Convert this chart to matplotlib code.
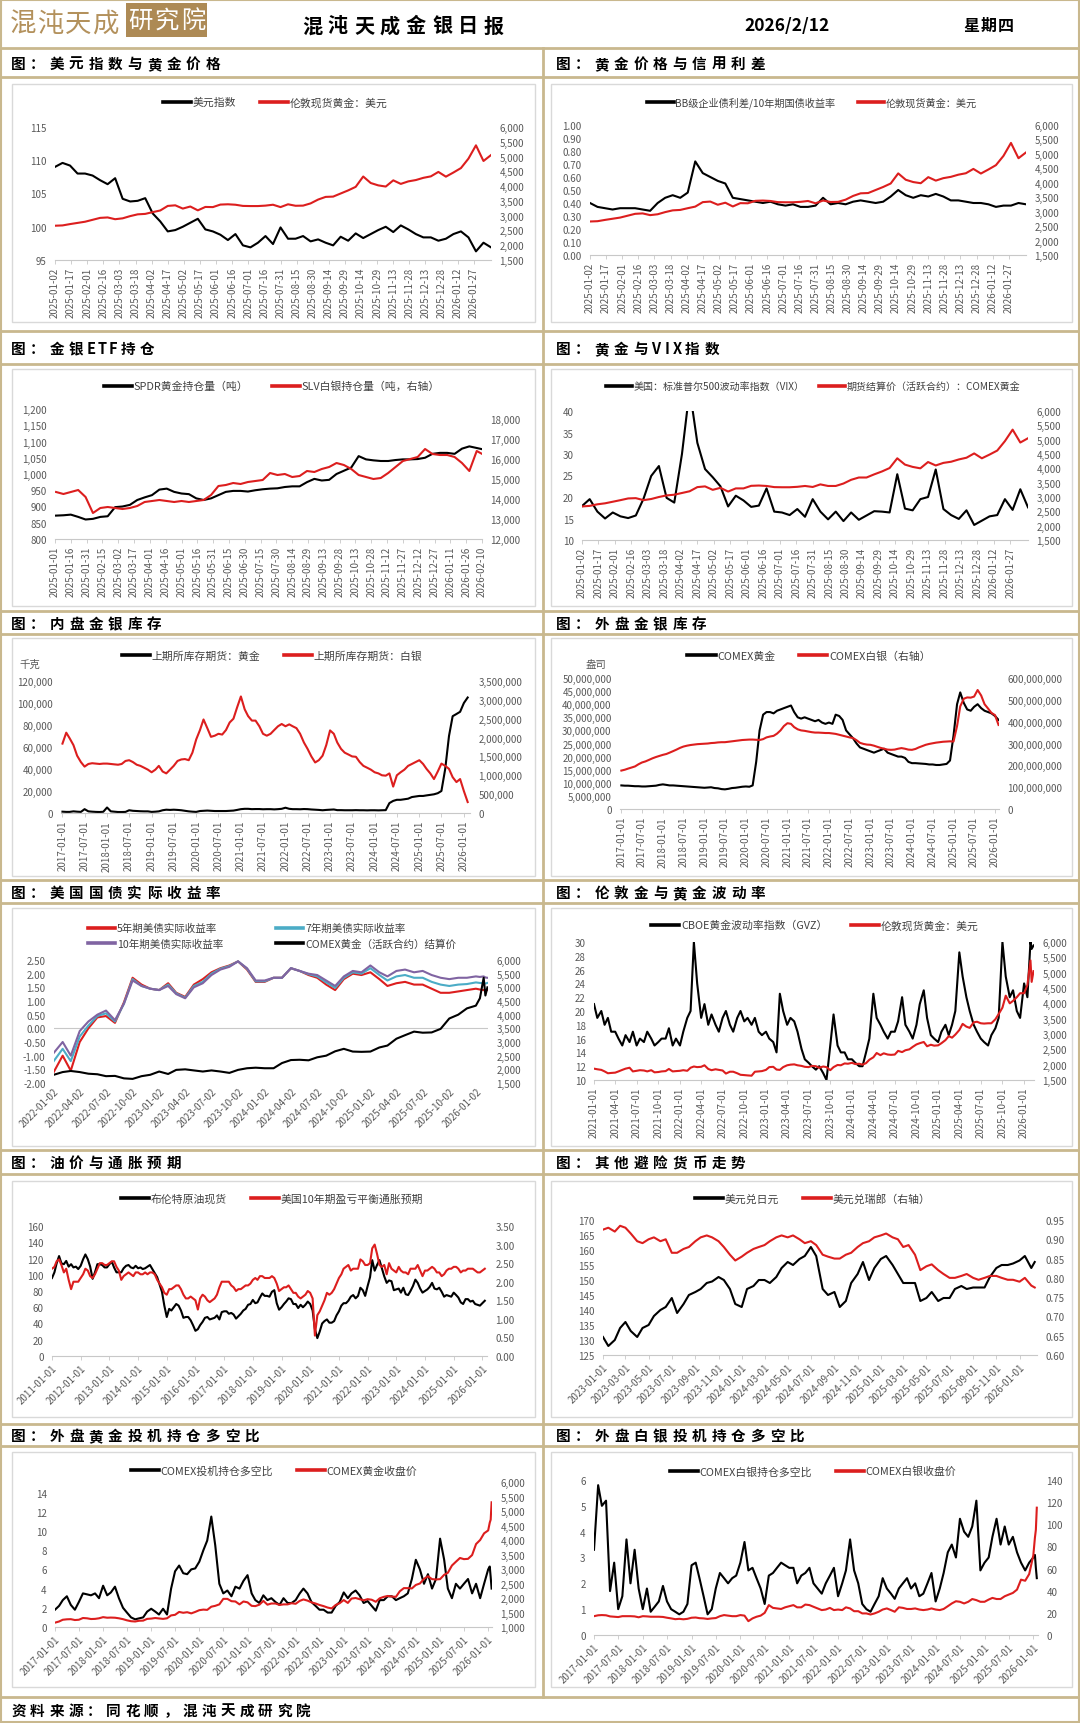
import matplotlib
matplotlib.use('Agg')
import matplotlib.pyplot as plt
from matplotlib.ticker import FuncFormatter
from matplotlib.lines import Line2D
from matplotlib.patches import Rectangle
import pandas as pd

plt.rcParams['font.family'] = ['Noto Sans CJK SC', 'DejaVu Sans']
plt.rcParams['axes.unicode_minus'] = False

W, H = 1080, 1724
TAN = '#C9B88E'
RED = '#DC1E1E'
BLK = '#000000'
TEAL = '#4BACC6'
PURP = '#8064A2'
TC = '#595959'
LW = 1.5

# ---------------- DATA ----------------
# weekly grid 2025-01-02 .. 2026-02-12 (59 points)
wk = pd.date_range('2025-01-02', periods=59, freq='7D')

dxy = [109.0,109.6,109.2,108.0,108.0,107.7,107.0,106.4,107.3,104.2,
       103.8,103.9,104.3,102.0,100.8,99.3,99.5,100.0,100.6,101.2,
       99.6,99.3,98.8,98.0,98.9,97.2,96.9,97.6,98.6,97.4,
       99.9,98.2,98.2,98.6,97.8,98.1,97.6,97.2,98.5,97.9,
       99.0,98.3,98.9,99.5,100.0,99.2,100.2,99.6,98.9,98.4,
       98.4,97.9,98.2,98.9,99.3,98.4,96.3,97.6,96.9]
gold_spot = [2660,2670,2715,2755,2795,2860,2925,2940,2880,2910,
             2985,3045,3060,3120,3175,3330,3350,3240,3310,3180,
             3295,3290,3375,3385,3370,3330,3325,3325,3340,3370,
             3290,3385,3335,3340,3415,3545,3635,3645,3750,3855,
             3975,4325,4105,4025,3985,4195,4075,4160,4205,4280,
             4330,4480,4320,4460,4610,4930,5380,4850,5050]
bb_spread = [0.40,0.37,0.36,0.35,0.36,0.36,0.36,0.35,0.34,0.40,
             0.44,0.46,0.44,0.48,0.72,0.63,0.60,0.57,0.55,0.44,
             0.43,0.42,0.41,0.40,0.41,0.39,0.38,0.39,0.37,0.37,
             0.38,0.44,0.39,0.40,0.39,0.41,0.42,0.41,0.40,0.41,
             0.45,0.50,0.46,0.44,0.46,0.45,0.47,0.45,0.42,0.42,
             0.41,0.40,0.40,0.39,0.37,0.38,0.38,0.40,0.39]
spdr = [872,873,875,868,860,862,868,870,898,900,
        905,920,928,935,952,955,945,940,938,925,
        920,925,935,945,948,948,946,950,953,955,
        956,960,962,962,975,985,980,982,1000,1010,
        1020,1055,1045,1042,1040,1040,1043,1045,1045,1046,
        1050,1062,1065,1065,1062,1078,1085,1080,1075]
slv = [14350,14250,14350,14450,14100,13300,13550,13600,13550,13500,
       13550,13650,13850,13900,13950,13900,13850,13900,13850,13900,
       13950,14200,14650,14700,14800,14750,14850,14900,14950,15300,
       15200,15250,15100,15150,15400,15350,15500,15600,15800,15700,
       15500,15200,15100,15000,15050,15300,15600,15900,16000,16100,
       16500,16250,16200,16200,16100,15800,15400,16400,16200]
vix = [17.9,19.5,16.6,15.0,16.4,15.5,15.1,15.7,19.6,24.9,
       27.2,19.8,18.7,30.0,45.0,32.6,26.5,24.6,22.5,17.8,
       20.3,19.2,17.7,18.0,22.0,16.6,16.4,15.8,17.2,15.4,
       19.5,16.6,14.8,16.6,14.4,16.4,14.7,15.7,16.7,16.6,
       16.4,25.3,17.3,16.9,19.5,20.0,26.4,17.2,15.8,14.9,
       16.9,13.5,14.5,15.5,15.8,19.5,17.0,21.8,17.6]
comex_gold_wk = [2670,2690,2745,2780,2835,2890,2950,2960,2890,2930,
                 3000,3055,3080,3140,3200,3345,3370,3250,3320,3190,
                 3300,3300,3390,3400,3385,3345,3340,3340,3355,3385,
                 3350,3440,3385,3385,3470,3600,3680,3680,3790,3890,
                 4010,4350,4130,4050,4000,4220,4100,4190,4230,4310,
                 4370,4520,4350,4480,4620,4950,5350,4900,5050]

# monthly 2017-01 .. 2026-02 (110)
m17 = pd.date_range('2017-01-01', periods=110, freq='MS')
shfe_gold = [1200,1000,1000,1500,1200,1000,3500,1500,1200,1000,900,1100,
             5000,1500,1200,900,900,1000,2500,2000,1800,1600,1500,1500,
             1000,1200,1500,2500,3000,2800,3000,2800,2500,2000,1500,1200,
             1000,1800,2000,2200,2000,1800,1800,1800,1800,2000,2200,2800,
             3500,3800,3800,3500,3600,3600,3400,3500,3500,3300,3500,3800,
             4800,3800,3500,3500,3400,3600,3500,3200,3000,2800,2500,2800,
             3000,3200,2600,2600,2500,2500,2500,2600,2500,2500,2400,2500,
             2500,2400,2500,2600,9000,11000,12000,12000,12500,13000,14500,15000,
             15500,15500,16000,16500,17000,18000,20000,40000,70000,88000,90000,92000,
             100000,105000]
shfe_silver = [1840000,2130000,1980000,1800000,1520000,1350000,1230000,1300000,1320000,1310000,1300000,1310000,
               1310000,1300000,1290000,1280000,1300000,1380000,1400000,1350000,1280000,1250000,1200000,1150000,
               1080000,1150000,1250000,1100000,1050000,1150000,1250000,1380000,1420000,1430000,1400000,1600000,
               1950000,2200000,2480000,2250000,2020000,2050000,2100000,2080000,2200000,2400000,2500000,2800000,
               3090000,2750000,2570000,2450000,2450000,2300000,2100000,2050000,2100000,2200000,2300000,2360000,
               2300000,2350000,2300000,2250000,2100000,1870000,1700000,1500000,1340000,1400000,1520000,1800000,
               2190000,2100000,1870000,1700000,1600000,1550000,1500000,1490000,1350000,1250000,1200000,1150000,
               1080000,1050000,1000000,990000,1050000,700000,1000000,1080000,1150000,1250000,1300000,1350000,
               1400000,1300000,1170000,1050000,900000,1100000,1310000,1250000,1170000,950000,820000,900000,
               580000,290000]
comex_gold_inv = [9.0,8.9,8.9,8.8,8.7,8.7,8.6,8.6,8.7,8.8,8.9,9.2,
                  9.4,9.2,9.0,9.0,8.9,8.8,8.7,8.6,8.5,8.4,8.3,8.2,
                  8.1,8.2,8.3,8.0,7.9,7.6,7.5,7.7,8.0,8.1,8.3,8.5,
                  8.6,8.5,9.0,18.0,30.0,36.0,37.0,37.0,36.5,37.5,38.0,38.5,
                  39.0,39.5,37.0,35.0,34.5,35.0,34.5,34.0,33.5,34.0,33.0,32.5,
                  33.0,32.5,36.0,35.5,34.0,30.0,28.5,27.0,25.0,23.5,23.0,22.5,
                  22.0,21.5,22.0,22.5,23.0,21.5,21.0,20.5,20.0,20.0,19.5,18.0,
                  17.5,17.5,17.4,17.3,17.2,17.0,17.0,16.8,16.8,17.0,17.2,18.5,
                  28.0,40.0,44.5,40.5,38.0,37.5,39.0,40.0,38.5,37.5,37.0,36.5,
                  35.5,34.0]
comex_silver_inv = [176,180,185,190,195,205,213,218,225,232,238,243,
                    248,252,258,265,272,280,286,290,293,295,297,298,
                    299,300,302,303,305,306,306,308,310,312,314,316,
                    317,318,318,317,316,320,328,332,335,345,360,380,
                    393,390,375,365,360,358,355,352,350,350,349,348,
                    348,346,344,340,336,332,328,325,315,303,298,295,
                    294,290,285,280,276,272,271,272,276,279,276,272,
                    271,275,282,288,294,298,301,304,306,308,309,310,
                    309,380,470,505,511,510,515,545,520,480,460,440,
                    430,385]

# US real yields, monthly 2022-01 .. 2026-01 plus Jan/Feb 2026 tail (53)
d7 = pd.date_range('2022-01-01', '2026-01-01', freq='MS').append(
    pd.to_datetime(['2026-01-15', '2026-01-28', '2026-02-03', '2026-02-10']))
ry5 = [-1.60,-1.00,-1.55,-0.50,0.00,0.40,0.45,0.20,0.95,1.85,1.60,1.45,
       1.40,1.65,1.30,1.15,1.60,1.80,2.05,2.20,2.30,2.45,2.15,1.70,
       1.70,1.85,1.85,2.20,2.10,1.95,1.85,1.60,1.40,1.80,2.00,1.95,
       2.05,1.80,1.55,1.65,1.70,1.60,1.60,1.45,1.30,1.30,1.35,1.40,
       1.45,1.42,1.40,1.38,1.40]
ry7 = [-1.20,-0.75,-1.20,-0.30,0.10,0.45,0.55,0.25,0.90,1.80,1.55,1.45,
       1.40,1.60,1.28,1.12,1.55,1.70,2.00,2.18,2.28,2.45,2.18,1.72,
       1.72,1.85,1.85,2.20,2.10,1.98,1.90,1.68,1.48,1.85,2.05,2.00,
       2.20,1.95,1.75,1.90,1.95,1.85,1.85,1.70,1.60,1.55,1.60,1.62,
       1.68,1.66,1.65,1.64,1.66]
ry10 = [-0.90,-0.50,-1.00,-0.10,0.25,0.50,0.65,0.30,0.90,1.75,1.55,1.45,
        1.40,1.55,1.25,1.10,1.50,1.65,1.95,2.15,2.25,2.45,2.20,1.75,
        1.75,1.85,1.85,2.20,2.10,2.00,1.95,1.75,1.55,1.90,2.10,2.05,
        2.30,2.05,1.90,2.10,2.15,2.05,2.10,1.95,1.85,1.80,1.85,1.85,
        1.90,1.88,1.90,1.86,1.85]
gold7 = [1800,1900,1940,1900,1840,1820,1750,1760,1670,1650,1750,1800,
         1920,1830,1980,2000,1960,1920,1960,1920,1870,1980,2040,2060,
         2040,2040,2230,2340,2350,2330,2440,2500,2660,2750,2650,2640,
         2650,2800,2870,3120,3250,3380,3340,3350,3480,3860,4000,4230,
         4330,4600,5350,4700,5000]

# GVZ and gold, semi-monthly 2021-01 .. 2026-01 plus tail (125)
d8 = pd.date_range('2021-01-01', '2026-01-15', freq='SMS').append(
    pd.to_datetime(['2026-01-28', '2026-02-02', '2026-02-10']))
gvz = [21,19, 20,18, 19,17, 17,16, 15,16.5, 15.5,17, 15,16, 15.5,17, 16,15, 15.5,16, 16,17.5, 15,16,
       15,17, 19,20, 30,24, 19,21, 18,19.5, 18,17, 19,20, 18,17, 19,20, 18.5,19, 18,19, 17,16.5,
       17,16, 15.5,14, 22.5,20, 18,19, 18.5,17, 14.5,13, 12.5,12, 11.5,12, 11,10, 15,19.5, 15,14, 14,13,
       13,12.5, 12,12, 14,16, 22.5,19, 18,17, 16,17, 17,18.5, 22,18, 17,16, 18,21, 23,19, 16.5,16,
       15.5,17, 18,16.5, 18,20, 28.5,25, 22,20, 18,17, 16,15.5, 15,16.5, 17.5,19, 30,25, 22,23, 20,19,
       24,22, 30,29,29.5]
gold8 = [1870,1850, 1830,1780, 1720,1730, 1740,1780, 1830,1870, 1900,1780, 1800,1820, 1810,1780, 1820,1750, 1760,1780, 1790,1860, 1780,1790,
         1800,1820, 1800,1900, 1940,1920, 1930,1980, 1860,1820, 1850,1830, 1810,1710, 1770,1770, 1720,1670, 1660,1650, 1640,1770, 1780,1790,
         1830,1920, 1930,1840, 1830,1920, 1980,2000, 2010,1980, 1960,1930, 1920,1960, 1950,1900, 1940,1920, 1820,1920, 1990,1980, 2040,2030,
         2060,2020, 2030,2000, 2050,2160, 2240,2380, 2310,2370, 2330,2320, 2330,2450, 2410,2470, 2500,2580, 2660,2700, 2740,2600, 2650,2620,
         2630,2700, 2800,2930, 2880,2980, 3130,3330, 3240,3200, 3380,3400, 3350,3340, 3350,3350, 3480,3650, 3860,4250, 4000,4080, 4200,4330,
         4330,4600, 5400,4700,5050]

# Brent and 10y breakeven, monthly 2011-01 .. 2026-02 (182)
m11 = pd.date_range('2011-01-01', periods=182, freq='MS')
brent = [96,103,114,123,114,113,117,110,113,109,110,107,
         111,119,125,119,110,95,103,113,113,112,109,109,
         113,116,109,103,103,103,108,111,112,109,108,111,
         108,109,107,108,110,112,107,102,97,88,79,62,
         48,58,56,60,64,62,56,47,48,48,44,38,
         31,33,38,42,47,48,45,46,47,50,45,54,
         55,55,52,53,51,46,49,52,56,58,63,64,
         69,65,66,72,77,74,74,73,79,81,65,57,
         60,64,67,71,70,64,64,59,63,60,63,67,
         64,56,33,22,30,40,43,45,41,41,43,50,
         55,62,65,65,68,73,75,71,74,84,81,74,
         86,97,118,105,112,118,108,98,90,93,92,81,
         82,83,78,84,76,75,80,86,94,90,83,78,
         80,82,85,90,83,82,84,79,73,75,74,73,
         78,75,72,66,64,70,70,67,68,64,63,62,
         65,68]
breakeven = [2.35,2.40,2.55,2.60,2.45,2.25,2.35,2.05,1.80,2.00,2.00,2.00,
             2.10,2.20,2.35,2.30,2.15,2.10,2.20,2.35,2.50,2.50,2.45,2.45,
             2.50,2.55,2.55,2.40,2.30,2.05,2.15,2.20,2.25,2.20,2.15,2.25,
             2.25,2.20,2.20,2.25,2.20,2.25,2.25,2.20,2.05,1.95,1.85,1.70,
             1.65,1.80,1.80,1.85,1.90,1.90,1.80,1.65,1.55,1.55,1.60,1.55,
             1.50,1.25,1.55,1.65,1.60,1.50,1.45,1.50,1.55,1.65,1.85,2.00,
             2.00,2.00,2.00,1.90,1.85,1.75,1.80,1.80,1.85,1.90,1.90,1.95,
             2.05,2.10,2.05,2.15,2.15,2.10,2.10,2.10,2.15,2.10,1.95,1.75,
             1.80,1.85,1.85,1.90,1.80,1.70,1.70,1.60,1.55,1.60,1.65,1.75,
             1.70,1.55,0.55,1.10,1.20,1.35,1.50,1.70,1.65,1.70,1.80,1.95,
             2.10,2.20,2.35,2.40,2.45,2.30,2.35,2.35,2.35,2.60,2.55,2.45,
             2.45,2.50,2.90,3.00,2.75,2.45,2.40,2.45,2.20,2.50,2.35,2.30,
             2.25,2.40,2.30,2.25,2.25,2.20,2.35,2.35,2.35,2.45,2.30,2.15,
             2.30,2.30,2.35,2.40,2.35,2.25,2.25,2.15,2.20,2.30,2.35,2.35,
             2.40,2.40,2.35,2.25,2.30,2.30,2.35,2.35,2.35,2.30,2.25,2.25,
             2.30,2.35]

# USDJPY / USDCHF semi-monthly 2023-01 .. 2026-02 (76)
d10 = pd.date_range('2023-01-01', '2026-02-01', freq='SMS').append(pd.to_datetime(['2026-02-10']))
usdjpy = [131,128, 130,134, 136,133, 131,134, 135,138, 140,141, 144,139, 142,145, 146,147, 149,149.5, 151,150, 147,142,
          141,147, 148,150, 150,149, 151,154, 156,155, 157,158, 161,158, 147,145, 146,141, 143,149, 152,156, 150,154,
          157,158, 155,152, 149,149, 149,143, 144,146, 143,144, 144,147, 148,147, 147.5,147.5, 147.5,151, 154,155, 155,155.5,
          156.5,158, 154, 156]
usdchf = [0.925,0.930, 0.920,0.935, 0.930,0.915, 0.895,0.890, 0.900,0.905, 0.895,0.900, 0.865,0.865, 0.875,0.880, 0.895,0.905, 0.910,0.905, 0.895,0.880, 0.860,0.845,
          0.855,0.865, 0.875,0.880, 0.885,0.895, 0.905,0.910, 0.905,0.910, 0.900,0.890, 0.895,0.885, 0.860,0.855, 0.850,0.850, 0.860,0.865, 0.880,0.890, 0.895,0.905,
          0.910,0.915, 0.905,0.900, 0.880,0.885, 0.860,0.820, 0.830,0.835, 0.820,0.810, 0.800,0.800, 0.805,0.810, 0.800,0.795, 0.800,0.805, 0.805,0.800, 0.795,0.795,
          0.790,0.800, 0.780, 0.775]

# CFTC positioning, monthly 2017-01 .. 2026-01 plus tail (112)
d11 = pd.date_range('2017-01-01', '2026-01-01', freq='MS').append(
    pd.to_datetime(['2026-01-13', '2026-01-20', '2026-01-27']))
gold_ls = [1.8,2.2,2.8,3.2,2.3,1.8,2.6,3.5,3.4,3.3,3.5,3.0,
           4.3,3.3,3.6,4.2,3.0,2.0,1.5,1.0,0.8,0.9,1.0,1.6,
           1.9,1.6,1.3,1.9,1.3,4.0,5.8,6.4,5.6,5.5,6.0,6.1,
           6.8,8.0,9.0,11.5,8.5,4.5,3.5,3.8,3.2,4.2,4.0,4.8,
           5.4,3.5,2.8,2.5,3.3,2.8,3.0,2.6,2.3,3.0,2.5,2.5,
           2.8,3.5,4.0,3.5,2.6,2.2,1.8,1.8,1.5,1.5,2.2,2.6,
           3.6,3.0,3.5,3.8,3.3,2.5,2.7,2.2,1.7,2.8,2.8,3.2,
           3.2,2.8,3.0,3.2,3.5,5.0,7.0,6.0,4.5,5.5,4.0,5.0,
           9.2,7.0,4.0,3.0,4.5,4.0,4.5,5.0,3.5,4.5,3.0,4.5,
           6.0,6.3,5.2,4.0]
gold_close = [1150,1190,1250,1265,1270,1240,1250,1310,1300,1275,1280,1300,
              1340,1320,1325,1320,1300,1270,1230,1200,1190,1215,1220,1280,
              1290,1310,1295,1280,1300,1400,1420,1520,1490,1510,1470,1520,
              1580,1600,1590,1700,1730,1780,1970,1970,1890,1880,1780,1880,
              1850,1730,1720,1770,1900,1770,1810,1810,1760,1780,1780,1820,
              1800,1900,1950,1910,1850,1810,1760,1720,1670,1640,1760,1820,
              1930,1830,1980,2000,1960,1920,1960,1940,1870,1990,2040,2070,
              2050,2040,2230,2340,2340,2330,2450,2500,2660,2750,2650,2640,
              2650,2800,2870,3120,3250,3380,3340,3350,3480,3860,4000,4230,
              4330,4600,4700,5300]
silver_ls = [3.3,5.8,5.0,5.2,1.7,2.8,1.0,1.5,3.7,2.0,3.3,1.8,
             1.0,1.8,0.9,1.1,1.3,1.9,1.3,1.0,0.9,0.8,0.9,1.2,
             2.7,2.8,2.2,1.5,0.8,1.0,1.8,2.4,2.2,2.0,2.2,2.3,
             2.8,3.6,2.5,2.6,2.2,1.8,1.2,2.3,2.4,2.6,2.8,2.7,
             2.6,2.6,2.0,2.3,2.4,2.6,2.0,1.8,1.6,2.0,2.3,2.6,
             1.5,2.0,2.5,3.7,2.5,2.0,1.2,1.0,0.9,1.2,1.5,2.2,
             1.8,1.6,1.4,1.8,2.0,2.2,1.8,2.0,1.5,1.6,2.0,2.4,
             1.3,1.8,2.4,3.2,3.5,3.0,4.5,4.0,3.8,4.2,5.2,2.5,
             2.8,3.0,3.8,4.5,3.5,4.2,3.5,3.8,3.2,2.8,2.5,2.8,
             3.0,3.1,2.6,2.2]
silver_close = [17.0,17.8,18.0,17.8,16.8,16.5,16.2,17.0,17.0,17.0,16.8,16.0,
                17.0,16.8,16.5,16.5,16.5,16.3,15.6,15.0,14.3,14.6,14.2,14.6,
                15.6,15.8,15.2,15.0,14.5,15.0,15.3,17.0,18.0,17.5,17.0,17.0,
                18.0,17.5,12.5,15.0,16.5,17.5,20.0,27.0,24.5,24.0,23.5,25.0,
                26.0,27.0,25.0,25.0,27.5,27.0,25.5,24.0,22.5,23.0,24.5,22.5,
                23.0,22.5,25.0,24.0,21.5,21.5,19.5,19.5,18.5,19.5,21.0,23.0,
                24.0,22.5,21.0,25.0,24.5,23.5,23.5,24.0,23.0,22.5,23.0,24.0,
                23.0,22.5,23.5,26.0,28.5,30.5,30.0,28.5,30.0,32.5,31.5,30.0,
                30.0,32.0,33.5,32.5,32.5,35.0,36.5,38.0,41.0,50.0,49.0,55.0,
                72.0,88.0,95.0,115.0]

left_titles = ['美元指数与黄金价格', '金银ETF持仓', '内盘金银库存', '美国国债实际收益率', '油价与通胀预期', '外盘黄金投机持仓多空比']
right_titles = ['黄金价格与信用利差', '黄金与VIX指数', '外盘金银库存', '伦敦金与黄金波动率', '其他避险货币走势', '外盘白银投机持仓多空比']

# ---------------- FIGURE ----------------
fig = plt.figure(figsize=(W / 100, H / 100), dpi=100)
fig.patch.set_facecolor('white')
bg = fig.add_axes([0, 0, 1, 1], zorder=0)
bg.set_xlim(0, W)
bg.set_ylim(H, 0)
bg.axis('off')


def hline(y, x0=0, x1=W, lw=2.0, c=TAN):
    bg.plot([x0, x1], [y, y], color=c, lw=lw, solid_capstyle='butt')


def spaced(x, y, s, step, size, color='black', weight='bold'):
    cx = x
    for ch in s:
        w = step if ord(ch) > 255 else step * 0.55
        bg.text(cx + w / 2, y, ch, ha='center', va='center', fontsize=size,
                color=color, fontweight=weight)
        cx += w


# frame
bg.add_patch(Rectangle((1, 1), W - 2, H - 2, fill=False, ec=TAN, lw=1.5))
# header
spaced(9, 24, '混沌天成', 27.5, 19, color='#B3915C', weight='normal')
bg.add_patch(Rectangle((126, 4), 81, 34, fc='#AD8A55', ec='none'))
spaced(127, 21, '研究院', 26.5, 17.5, color='white', weight='normal')
spaced(299, 26, '混沌天成金银日报', 26, 14.5)
bg.text(787, 26, '2026/2/12', ha='center', va='center', fontsize=12.5, fontweight='bold')
spaced(963, 26, '星期四', 17, 11.5)
hline(49)

block_start = [50, 332, 612, 881, 1151, 1425]
title_bottom = [78, 365, 635, 904, 1175, 1447]
title_center = [64, 349, 624, 893, 1163, 1436]
panels = [(85, 323), (370, 607), (639, 877), (909, 1147), (1182, 1418), (1453, 1688)]
for i in range(6):
    if i > 0:
        hline(block_start[i])
    hline(title_bottom[i])
    spaced(8, title_center[i], '图：' + left_titles[i], 19.5, 10.5)
    spaced(553, title_center[i], '图：' + right_titles[i], 19.5, 10.5)
    t, b = panels[i]
    bg.add_patch(Rectangle((12, t), 523, b - t, fc='white', ec='#D9D9D9', lw=1.0))
    bg.add_patch(Rectangle((551, t), 521, b - t, fc='white', ec='#D9D9D9', lw=1.0))
hline(1698)
bg.plot([543, 543], [49, 1698], color=TAN, lw=2.0)
spaced(9, 1711, '资料来源：同花顺，混沌天成研究院', 19, 10.5)


def fmt(dec=0):
    return FuncFormatter(lambda v, p: f'{v:,.{dec}f}')


def make_axes(box, xlim, ticks, rot, yl1, yt1, f1, yl2, yt2, f2, tsize=7):
    x0, y0, x1, y1 = box
    ax = fig.add_axes([x0 / W, 1 - y1 / H, (x1 - x0) / W, (y1 - y0) / H])
    ax.set_zorder(2)
    ax.patch.set_visible(False)
    ax2 = ax.twinx()
    ax2.set_zorder(3)
    ax2.patch.set_visible(False)
    for a in (ax, ax2):
        for s in a.spines.values():
            s.set_visible(False)
        a.tick_params(axis='y', length=0, pad=6, labelsize=7, labelcolor=TC)
    ax.spines['bottom'].set_visible(True)
    ax.spines['bottom'].set_color('#C8C8C8')
    ax.spines['bottom'].set_linewidth(0.8)
    ax.set_xlim(pd.Timestamp(xlim[0]), pd.Timestamp(xlim[1]))
    ax.set_xticks(ticks)
    labels = [t.strftime('%Y-%m-%d') for t in ticks]
    if rot == 90:
        ax.set_xticklabels(labels, rotation=90, fontsize=tsize, color=TC)
    else:
        ax.set_xticklabels(labels, rotation=45, ha='right', va='top',
                           rotation_mode='anchor', fontsize=tsize, color=TC)
    ax.tick_params(axis='x', length=3, width=0.6, color='#C8C8C8', pad=2)
    ax.set_ylim(*yl1)
    ax.set_yticks(yt1)
    ax.yaxis.set_major_formatter(f1)
    ax2.set_ylim(*yl2)
    ax2.set_yticks(yt2)
    ax2.yaxis.set_major_formatter(f2)
    return ax, ax2


def legend(items, cx, cy, ncol=2, size=7.8, colsp=2.2):
    handles = [Line2D([], [], color=c, lw=2.6) for c, _ in items]
    labels = [l for _, l in items]
    leg = fig.legend(handles, labels, loc='center', bbox_to_anchor=(cx / W, 1 - cy / H),
                     ncol=ncol, frameon=False, fontsize=size, handlelength=2.6,
                     handletextpad=0.15, columnspacing=colsp, borderaxespad=0)
    for t in leg.get_texts():
        t.set_color('#404040')
    return leg


def rng(a, b, s):
    out = []
    v = a
    while v <= b + 1e-9:
        out.append(round(v, 6))
        v += s
    return out


t15a = pd.date_range('2025-01-02', '2026-01-27', freq='15D')
t15b = pd.date_range('2025-01-01', '2026-02-10', freq='15D')
t6m = pd.date_range('2017-01-01', '2026-01-01', freq='6MS')
t7 = pd.date_range('2022-01-01', '2026-01-01', freq='3MS') + pd.Timedelta(days=1)
t8 = pd.date_range('2021-01-01', '2026-01-01', freq='3MS')
t9 = pd.date_range('2011-01-01', '2026-01-01', freq='YS')
t10 = pd.date_range('2023-01-01', '2026-01-01', freq='2MS')

# Chart 1
ax, ax2 = make_axes((55, 128, 491, 261), ('2025-01-02', '2026-02-12'), t15a, 90,
                    (95, 115), rng(95, 115, 5), fmt(0), (1500, 6000), rng(1500, 6000, 500), fmt(0))
ax.plot(wk, dxy, color=BLK, lw=LW)
ax2.plot(wk, gold_spot, color=RED, lw=LW)
legend([(BLK, '美元指数'), (RED, '伦敦现货黄金：美元')], 275, 103)

# Chart 2
ax, ax2 = make_axes((590, 126, 1026, 256), ('2025-01-02', '2026-02-12'), t15a, 90,
                    (0, 1.0), rng(0, 1.0, 0.1), fmt(2), (1500, 6000), rng(1500, 6000, 500), fmt(0))
ax.plot(wk, bb_spread, color=BLK, lw=LW)
ax2.plot(wk, gold_spot, color=RED, lw=LW)
legend([(BLK, 'BB级企业债利差/10年期国债收益率'), (RED, '伦敦现货黄金：美元')], 812, 103, size=7.3)

# Chart 3
ax, ax2 = make_axes((55, 410, 482, 540), ('2025-01-01', '2026-02-10'), t15b, 90,
                    (800, 1200), rng(800, 1200, 50), fmt(0), (12000, 18500), rng(12000, 18000, 1000), fmt(0))
ax.plot(wk, spdr, color=BLK, lw=LW)
ax2.plot(wk, slv, color=RED, lw=LW)
legend([(BLK, 'SPDR黄金持仓量（吨）'), (RED, 'SLV白银持仓量（吨，右轴）')], 272, 387)

# Chart 4
ax, ax2 = make_axes((582, 412, 1028, 541), ('2025-01-02', '2026-02-12'), t15a, 90,
                    (10, 40), rng(10, 40, 5), fmt(0), (1500, 6000), rng(1500, 6000, 500), fmt(0))
ax.plot(wk, vix, color=BLK, lw=LW)
ax2.plot(wk, comex_gold_wk, color=RED, lw=LW)
legend([(BLK, '美国：标准普尔500波动率指数（VIX）'), (RED, '期货结算价（活跃合约）：COMEX黄金')], 813, 387,
       size=7.2, colsp=1.5)

# Chart 5
ax, ax2 = make_axes((61, 682, 470, 814), ('2016-12-20', '2026-02-20'), t6m, 90,
                    (0, 120000), rng(0, 120000, 20000), fmt(0), (0, 3500000), rng(0, 3500000, 500000), fmt(0))
ax.plot(m17, shfe_gold, color=BLK, lw=LW)
ax2.plot(m17, shfe_silver, color=RED, lw=LW)
legend([(BLK, '上期所库存期货：黄金'), (RED, '上期所库存期货：白银')], 272, 657)
bg.text(30, 665, '千克', ha='center', va='center', fontsize=7.5, color=TC)

# Chart 6
ax, ax2 = make_axes((620, 679, 999, 810), ('2016-12-20', '2026-02-05'), t6m, 90,
                    (0, 50e6), rng(0, 50e6, 5e6), fmt(0), (0, 600e6), rng(0, 600e6, 100e6), fmt(0))
ax.plot(m17, [v * 1e6 for v in comex_gold_inv], color=BLK, lw=LW)
ax2.plot(m17, [v * 1e6 for v in comex_silver_inv], color=RED, lw=LW)
legend([(BLK, 'COMEX黄金'), (RED, 'COMEX白银（右轴）')], 809, 657)
bg.text(596, 665, '盎司', ha='center', va='center', fontsize=7.5, color=TC)

# Chart 7
ax, ax2 = make_axes((54, 961, 488, 1084), ('2022-01-02', '2026-02-12'), t7, 45,
                    (-2.0, 2.5), rng(-2.0, 2.5, 0.5), fmt(2), (1500, 6000), rng(1500, 6000, 500), fmt(0))
ax.spines['bottom'].set_visible(False)
ax.axhline(0, color='#C8C8C8', lw=0.8)
ax.tick_params(axis='x', length=0)
ax.plot(d7, ry5, color=RED, lw=LW)
ax.plot(d7, ry7, color=TEAL, lw=LW)
ax.plot(d7, ry10, color=PURP, lw=LW)
ax2.plot(d7, gold7, color=BLK, lw=LW)
leg = legend([(RED, '5年期美债实际收益率'), (PURP, '10年期美债实际收益率'),
              (TEAL, '7年期美债实际收益率'), (BLK, 'COMEX黄金（活跃合约）结算价')], 272, 937, size=7.6, colsp=5.0)

# Chart 8
ax, ax2 = make_axes((594, 943, 1034, 1081), ('2021-01-01', '2026-02-12'), t8, 90,
                    (10, 30), rng(10, 30, 2), fmt(0), (1500, 6000), rng(1500, 6000, 500), fmt(0))
ax.plot(d8, gvz, color=BLK, lw=LW)
ax2.plot(d8, gold8, color=RED, lw=LW)
legend([(BLK, 'CBOE黄金波动率指数（GVZ）'), (RED, '伦敦现货黄金：美元')], 815, 926)

# Chart 9
ax, ax2 = make_axes((52, 1227, 487, 1357), ('2011-01-01', '2026-03-01'), t9, 45,
                    (0, 160), rng(0, 160, 20), fmt(0), (0, 3.5), rng(0, 3.5, 0.5), fmt(2))
ax.plot(m11, brent, color=BLK, lw=LW)
ax2.plot(m11, breakeven, color=RED, lw=LW)
legend([(BLK, '布伦特原油现货'), (RED, '美国10年期盈亏平衡通胀预期')], 272, 1199)

# Chart 10
ax, ax2 = make_axes((603, 1221, 1037, 1356), ('2023-01-01', '2026-02-16'), t10, 45,
                    (125, 170), rng(125, 170, 5), fmt(0), (0.60, 0.95), rng(0.60, 0.95, 0.05), fmt(2))
ax.plot(d10, usdjpy, color=BLK, lw=LW)
ax2.plot(d10, usdchf, color=RED, lw=LW)
legend([(BLK, '美元兑日元'), (RED, '美元兑瑞郎（右轴）')], 813, 1199)

# Chart 11
ax, ax2 = make_axes((55, 1483, 492, 1628), ('2017-01-01', '2026-01-30'), t6m, 45,
                    (0, 15.1), rng(0, 14, 2), fmt(0), (1000, 6000), rng(1000, 6000, 500), fmt(0))
ax.plot(d11, gold_ls, color=BLK, lw=LW)
ax2.plot(d11, gold_close, color=RED, lw=LW)
legend([(BLK, 'COMEX投机持仓多空比'), (RED, 'COMEX黄金收盘价')], 274, 1472)

# Chart 12
ax, ax2 = make_axes((594, 1481, 1038, 1636), ('2017-01-01', '2026-02-05'), t6m, 45,
                    (0, 6), rng(0, 6, 1), fmt(0), (0, 140), rng(0, 140, 20), fmt(0))
ax.plot(d11, silver_ls, color=BLK, lw=LW)
ax2.plot(d11, silver_close, color=RED, lw=LW)
legend([(BLK, 'COMEX白银持仓多空比'), (RED, 'COMEX白银收盘价')], 813, 1472)

fig.savefig('out.png', dpi=100, facecolor='white')
